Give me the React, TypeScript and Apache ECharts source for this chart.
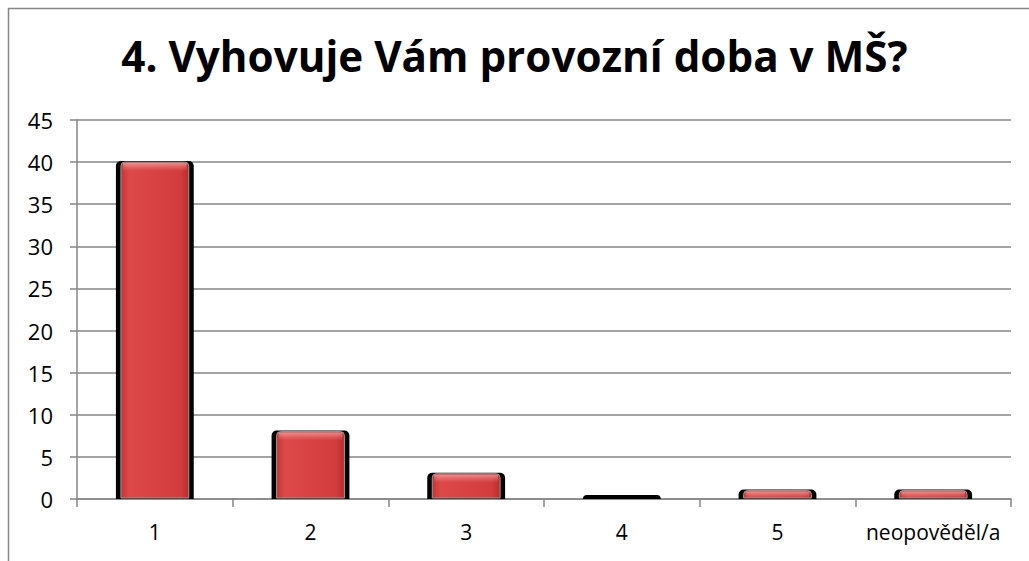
import React, { useEffect, useRef } from "react";
import * as echarts from "echarts";

const titleText = "4. Vyhovuje Vám provozní doba v MŠ?";
const categories = ["1", "2", "3", "4", "5", "neopověděl/a"];
const values = [40, 8, 3, 0, 1, 1];
const yMin = 0;
const yMax = 45;
const yStep = 5;

export default function App() {
  const ref = useRef<HTMLDivElement>(null);
  useEffect(() => {
    if (!ref.current) return;
    const chart = echarts.init(ref.current, null, { renderer: "svg" });
    const font = "'Open Sans', 'Liberation Sans', sans-serif";
    chart.setOption({
      animation: false,
      backgroundColor: "#ffffff",
      title: {
        text: titleText,
        left: "center",
        top: 29,
        textStyle: {
          fontFamily: font,
          fontWeight: "bold",
          fontSize: 42.2,
          color: "#000000",
        },
      },
      graphic: [
        {
          type: "rect",
          shape: { x: 8.5, y: 8.5, width: 1100, height: 700 },
          style: { fill: "none", stroke: "#868686", lineWidth: 1.5 },
          silent: true,
          z: -1,
        },
      ],
      grid: { left: 77, right: 18, top: 120, bottom: 62 },
      xAxis: {
        type: "category",
        data: categories,
        boundaryGap: true,
        axisLine: { lineStyle: { color: "#868686", width: 1.5 } },
        axisTick: { show: true, interval: 0, length: 8, alignWithLabel: false, lineStyle: { color: "#868686", width: 1.5 } },
        axisLabel: { interval: 0, color: "#000", fontFamily: font, fontSize: 21, margin: 22 },
      },
      yAxis: {
        type: "value",
        min: yMin,
        max: yMax,
        interval: yStep,
        axisLine: { show: true, lineStyle: { color: "#868686", width: 1.5 } },
        axisTick: { show: true, length: 7, lineStyle: { color: "#868686", width: 1.5 } },
        axisLabel: { color: "#000", fontFamily: font, fontSize: 22, margin: 24 },
        splitLine: { show: true, lineStyle: { color: "#868686", width: 1.5 } },
      },
      series: [
        {
          type: "custom",
          data: values.map((v, i) => [i, v]),
          encode: { x: 0, y: 1 },
          renderItem: (params: any, api: any) => {
            const idx = api.value(0);
            const v = api.value(1);
            const top = api.coord([idx, v]);
            const base = api.coord([idx, 0]);
            const w = api.size([1, 0])[0] * 0.5;
            const h = Math.max(base[1] - top[1], 3);
            const x = top[0] - w / 2;
            const y = base[1] - h;
            const side = 5;
            const children: any[] = [
              {
                type: "rect",
                shape: { x: x, y: y - 1, width: w, height: h + 1, r: [5, 5, 0, 0] },
                style: { fill: "#000000" },
              },
            ];
            if (h > 3) {
              children.push({
                type: "rect",
                shape: { x: x + side, y: y, width: w - 2 * side, height: h - 1, r: [4, 4, 0, 0] },
                style: {
                  fill: new echarts.graphic.LinearGradient(0, 0, 1, 0, [
                    { offset: 0, color: "#c43434" },
                    { offset: 0.12, color: "#dd4848" },
                    { offset: 0.5, color: "#d84242" },
                    { offset: 0.88, color: "#d23c3c" },
                    { offset: 1, color: "#b82c2c" },
                  ]),
                  stroke: "#9a9a9a",
                  lineWidth: 1,
                },
              });
              const hh = Math.min(8, h - 2);
              children.push({
                type: "rect",
                shape: { x: x + side + 2, y: y + 1, width: w - 2 * side - 4, height: hh },
                style: {
                  fill: new echarts.graphic.LinearGradient(0, 0, 0, 1, [
                    { offset: 0, color: "rgba(255,200,200,0.55)" },
                    { offset: 1, color: "rgba(255,160,160,0)" },
                  ]),
                },
              });
            }
            return { type: "group", children };
          },
        },
      ],
    });
    return () => chart.dispose();
  }, []);
  return (
    <div
      ref={ref}
      style={{ position: "absolute", left: 0, top: 0, width: 1029, height: 561 }}
    />
  );
}
